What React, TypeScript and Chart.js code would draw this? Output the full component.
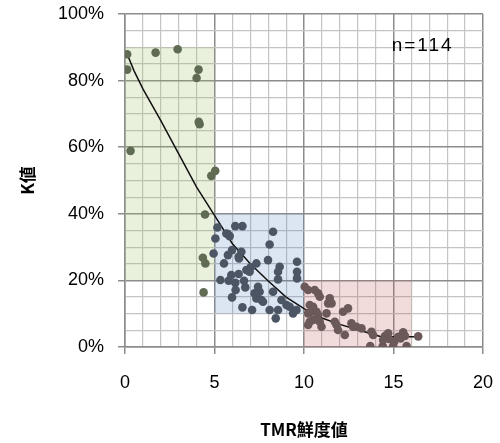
import React, { useEffect, useRef } from 'react';
import { Chart, registerables } from 'chart.js';

Chart.register(...registerables);

// ---- data (TMR freshness value vs K value %) ----
const greenX = [0.12, 0.12, 0.31, 1.71, 2.94, 4.11, 4.0, 4.17, 4.12, 5.04, 4.82, 4.47, 4.35, 4.49, 4.39];
const greenY = [87.9, 83.3, 58.9, 88.4, 89.4, 83.3, 80.8, 66.9, 67.6, 52.9, 51.4, 39.8, 26.8, 25.1, 16.4];

const blueX = [5.16, 6.16, 6.56, 5.75, 5.85, 5.05, 5.98, 5.75, 6.35, 4.95, 5.53, 6.78, 7.02, 5.94, 6.35, 5.33, 5.79, 6.16,
  6.65, 6.72, 6.18, 5.98, 6.56, 7.1, 8.27, 8.08, 7.99, 7.34, 9.61, 9.61, 9.61, 8.64, 8.55, 8.55, 7.43, 7.52, 7.24, 8.27,
  7.34, 7.71, 8.74, 9.02, 9.2, 8.08, 8.55, 9.39, 9.58, 8.42, 6.5, 6.37, 6.96, 5.66, 7.62];
const blueY = [35.9, 36.3, 36.3, 33.9, 33.3, 32.6, 29.1, 27.6, 27.1, 28.1, 25.1, 23.1, 23.9, 21.6, 21.9, 20.1, 19.9, 19.3,
  19.9, 17.9, 17.1, 14.9, 11.9, 11.1, 34.6, 30.8, 26.1, 25.1, 25.6, 22.6, 20.6, 24.1, 22.6, 20.3, 18.1, 16.6, 16.1, 16.6,
  14.6, 13.6, 14.1, 12.6, 12.1, 11.1, 11.1, 10.1, 11.1, 8.6, 28.6, 26.6, 22.6, 34.1, 14.1];

const redX = [10.04, 10.23, 10.6, 10.79, 10.88, 10.32, 10.51, 10.42, 10.23, 10.7, 10.79, 10.51, 10.32, 10.23, 10.88, 10.98,
  11.35, 11.44, 11.54, 11.26, 12.18, 12.46, 11.72, 11.82, 11.9, 12.28, 12.65, 12.74, 13.21, 13.77, 13.86, 13.7, 14.4, 14.98,
  15.73, 14.52, 14.7, 14.75, 15.04, 15.26, 15.54, 15.64, 15.4, 16.38, 14.42, 12.93];
const redY = [18.1, 17.1, 17.1, 16.1, 15.1, 12.6, 12.1, 10.6, 10.1, 10.6, 9.6, 8.1, 7.6, 6.6, 7.6, 6.1,
  13.1, 14.6, 13.1, 10.1, 10.6, 11.6, 7.6, 6.6, 5.1, 3.6, 7.1, 6.1, 5.6, 4.6, 3.6, 0.3, 0.3, 0.3,
  0.3, 3.3, 4.1, 2.4, 1.6, 3.1, 4.4, 3.3, 2.6, 3.2, 2.1, 6.1];

const trendX = [0.12, 0.5, 1, 2, 3, 4, 5, 6, 7, 8, 9, 10, 11, 12, 13, 14, 14.3, 16.4];
const trendY = [88, 83, 77.5, 68, 58, 48, 39.5, 31, 25, 19.8, 15, 11.5, 8.7, 6.8, 5.2, 3.6, 3.1, 3.1];

// shaded regions: x range, y range
const regionX0 = [0, 5, 10];
const regionX1 = [5, 10, 16];
const regionY0 = [20, 10, 0];
const regionY1 = [90, 40, 20];
const regionFill = ['rgba(155,187,89,0.22)', 'rgba(79,129,189,0.2)', 'rgba(192,80,77,0.2)'];

const xLabelStep = 5;
const yLabelStep = 20;
const annotationText = 'n=114';
const xTitle = 'TMR鮮度値';
const yTitle = 'K値';

const pts = (xs: number[], ys: number[]) => xs.map((x, i) => ({ x, y: ys[i] }));

const regionPlugin = {
  id: 'regions',
  beforeDatasetsDraw(chart: any) {
    const { ctx, scales } = chart;
    const xs = scales.x;
    const ys = scales.y;
    ctx.save();
    for (let i = 0; i < regionX0.length; i++) {
      const l = xs.getPixelForValue(regionX0[i]);
      const r = xs.getPixelForValue(regionX1[i]);
      const t = ys.getPixelForValue(regionY1[i]);
      const b = ys.getPixelForValue(regionY0[i]);
      ctx.fillStyle = regionFill[i];
      ctx.fillRect(l, t, r - l, b - t);
    }
    ctx.restore();
  },
  afterDatasetsDraw(chart: any) {
    const { ctx } = chart;
    ctx.save();
    ctx.font = '19px "Liberation Sans", Arial, sans-serif';
    (ctx as any).letterSpacing = '2px';
    ctx.fillStyle = '#000';
    ctx.textAlign = 'left';
    ctx.textBaseline = 'middle';
    const xs = chart.scales.x;
    const ys = chart.scales.y;
    ctx.fillText(annotationText, xs.getPixelForValue(14.9), ys.getPixelForValue(90.5));
    ctx.restore();
  },
};

export default function App() {
  const ref = useRef<HTMLCanvasElement | null>(null);
  useEffect(() => {
    if (!ref.current) return;
    const major = '#8c8c8c';
    const minor = '#c4c4c4';
    const tickFont = { family: '"Liberation Sans", Arial, sans-serif', size: 18 };
    const chart = new Chart(ref.current, {
      type: 'scatter',
      data: {
        datasets: [
          { data: pts(greenX, greenY), backgroundColor: '#5f6b52', pointRadius: 4.3, pointBorderWidth: 0, borderWidth: 0 },
          { data: pts(blueX, blueY), backgroundColor: '#4b5563', pointRadius: 4.3, pointBorderWidth: 0, borderWidth: 0 },
          { data: pts(redX, redY), backgroundColor: '#6b5858', pointRadius: 4.3, pointBorderWidth: 0, borderWidth: 0 },
          {
            data: pts(trendX, trendY), showLine: true, borderColor: '#111', borderWidth: 1.5, pointRadius: 0,
            tension: 0, fill: false,
          } as any,
        ],
      },
      options: {
        animation: false,
        responsive: false,
        maintainAspectRatio: false,
        layout: { padding: { left: 0, top: 14, right: 17, bottom: 0 } },
        plugins: { legend: { display: false }, tooltip: { enabled: false } },
        scales: {
          x: {
            type: 'linear',
            min: 0,
            max: 20,
            afterFit: (s: any) => { s.height = 96; s.paddingLeft = 0; s.paddingRight = 0; },
            border: { color: major, width: 1.5 },
            grid: {
              color: (c: any) => (c.tick && c.tick.value % xLabelStep === 0 ? major : minor),
              lineWidth: (c: any) => (c.tick && c.tick.value % xLabelStep === 0 ? 1.5 : 1.2),
              tickColor: (c: any) => (c.tick && c.tick.value % xLabelStep === 0 ? major : 'rgba(0,0,0,0)'),
              tickLength: 7,
            },
            ticks: {
              stepSize: 1,
              autoSkip: false,
              maxRotation: 0,
              color: '#000',
              font: tickFont,
              padding: 18,
              callback: (v: any) => (Number(v) % xLabelStep === 0 ? String(v) : ''),
            },
            title: {
              display: true,
              text: xTitle,
              color: '#000',
              font: { family: '"Noto Sans CJK JP", sans-serif', size: 17, weight: 'bold' },
              padding: { top: 0, bottom: 3 },
            },
          },
          y: {
            type: 'linear',
            min: 0,
            max: 100,
            afterFit: (s: any) => { s.width = 125; s.paddingTop = 0; s.paddingBottom = 0; },
            border: { color: major, width: 1.5 },
            grid: {
              color: (c: any) => (c.tick && c.tick.value % yLabelStep === 0 ? major : minor),
              lineWidth: (c: any) => (c.tick && c.tick.value % yLabelStep === 0 ? 1.5 : 1.2),
              tickColor: (c: any) => (c.tick && c.tick.value % yLabelStep === 0 ? major : 'rgba(0,0,0,0)'),
              tickLength: 7,
            },
            ticks: {
              stepSize: 5,
              autoSkip: false,
              color: '#000',
              font: tickFont,
              padding: 14,
              callback: (v: any) => (Number(v) % yLabelStep === 0 ? v + '%' : ''),
            },
            title: {
              display: true,
              text: yTitle,
              color: '#000',
              font: { family: '"Noto Sans CJK JP", sans-serif', size: 17, weight: 'bold' },
              padding: { top: 17, bottom: 0 },
            },
          },
        },
      },
      plugins: [regionPlugin],
    });
    return () => chart.destroy();
  }, []);
  return (
    <div style={{ position: 'absolute', left: 0, top: 0, width: 500, height: 443, background: '#fff' }}>
      <canvas ref={ref} width={500} height={443} style={{ width: 500, height: 443, display: 'block' }} />
    </div>
  );
}
